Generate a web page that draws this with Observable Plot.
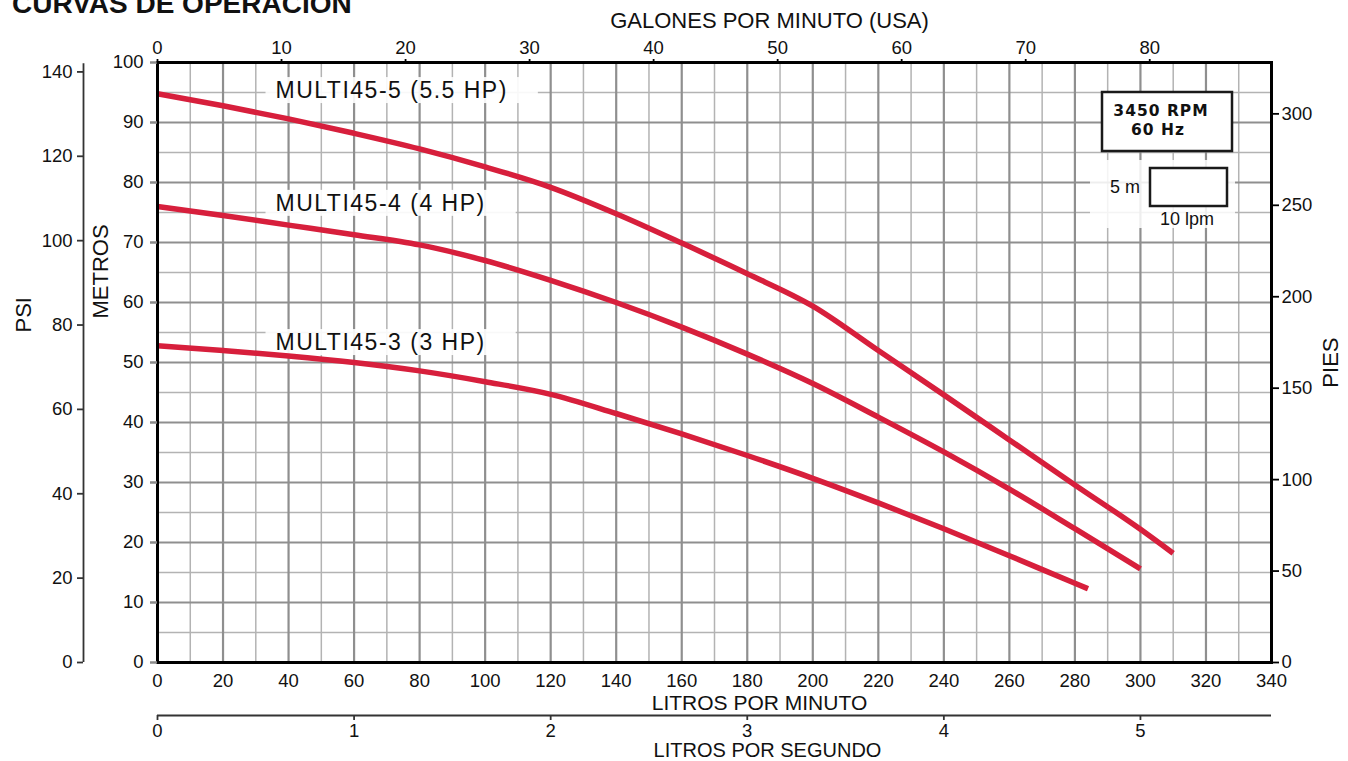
<!DOCTYPE html>
<html>
<head>
<meta charset="utf-8">
<script src="https://cdn.jsdelivr.net/npm/d3@7"></script>
<script src="https://cdn.jsdelivr.net/npm/@observablehq/plot@0.6"></script>
<style>
  html, body { margin: 0; padding: 0; background: white; }
  #wrap { position: relative; width: 1348px; height: 761px; overflow: hidden; }
  #title { position: absolute; left: 12px; top: -10px; font: bold 28px "Liberation Sans", Arial, sans-serif; line-height: 28px; color: #111; z-index: 2; }
</style>
</head>
<body>
<div id="wrap"><div id="title">CURVAS DE OPERACION</div></div>
<script>
// ---- data ----
const seriesNames = ["MULTI45-5 (5.5 HP)", "MULTI45-4 (4 HP)", "MULTI45-3 (3 HP)"];

const flow55 = [0, 20, 40, 60, 80, 100, 120, 140, 160, 180, 200, 220, 240, 260, 280, 300, 310];
const head55 = [94.8, 92.8, 90.6, 88.2, 85.6, 82.6, 79.2, 74.8, 69.9, 64.8, 59.4, 52.0, 44.6, 37.1, 29.6, 22.2, 18.2];

const flow4 = [0, 20, 40, 60, 80, 100, 120, 140, 160, 180, 200, 220, 240, 260, 280, 300];
const head4 = [76.0, 74.5, 72.9, 71.3, 69.6, 67.0, 63.7, 60.0, 55.9, 51.4, 46.5, 40.9, 35.1, 28.9, 22.3, 15.6];

const flow3 = [0, 20, 40, 60, 80, 100, 120, 140, 160, 180, 200, 220, 240, 260, 280, 284];
const head3 = [52.8, 52.0, 51.1, 50.0, 48.6, 46.8, 44.7, 41.5, 38.1, 34.5, 30.7, 26.6, 22.3, 17.8, 13.2, 12.3];

// tick labels
const lpmTicks = [0, 20, 40, 60, 80, 100, 120, 140, 160, 180, 200, 220, 240, 260, 280, 300, 320, 340];
const gpmTicks = [0, 10, 20, 30, 40, 50, 60, 70, 80];
const metrosTicks = [0, 10, 20, 30, 40, 50, 60, 70, 80, 90, 100];
const piesTicks = [0, 50, 100, 150, 200, 250, 300];
const psiTicks = [0, 20, 40, 60, 80, 100, 120, 140];
const lpsTicks = [0, 1, 2, 3, 4, 5];
const gridMinorX = [10, 30, 50, 70, 90, 110, 130, 150, 170, 190, 210, 230, 250, 270, 290, 310, 330];
const gridMajorX = [20, 40, 60, 80, 100, 120, 140, 160, 180, 200, 220, 240, 260, 280, 300, 320];
const gridMinorY = [5, 15, 25, 35, 45, 55, 65, 75, 85, 95];
const gridMajorY = [10, 20, 30, 40, 50, 60, 70, 80, 90];

// unit conversions
const LPM_PER_GPM = 3.78541;
const M_PER_FT = 0.3048;
const M_PER_PSI = 0.70307;
const LPM_PER_LPS = 60;

// ---- tidy table ----
const flows = [flow55, flow4, flow3];
const heads = [head55, head4, head3];
const rows = [];
seriesNames.forEach((name, s) => flows[s].forEach((q, i) => rows.push({series: name, lpm: q, m: heads[s][i]})));
const labelRows = seriesNames.map((name, s) => ({series: name, m: heads[s][0]}));

const RED = "#d71f3c";
const FONT = "Liberation Sans, Arial, Helvetica, sans-serif";

const chart = Plot.plot({
  width: 1348,
  height: 761,
  marginLeft: 157,
  marginRight: 77,
  marginTop: 62,
  marginBottom: 99,
  style: {fontFamily: FONT, fontSize: "18.5px", color: "#111", background: "white", overflow: "visible"},
  x: {domain: [0, 340]},
  y: {domain: [0, 100]},
  marks: [
    // grid
    Plot.ruleX(gridMinorX, {stroke: "#b3b3b3", strokeWidth: 1.5}),
    Plot.ruleY(gridMinorY, {stroke: "#b3b3b3", strokeWidth: 1.5}),
    Plot.ruleX(gridMajorX, {stroke: "#8f8f8f", strokeWidth: 2.2}),
    Plot.ruleY(gridMajorY, {stroke: "#8f8f8f", strokeWidth: 2.2}),
    // curve labels
    Plot.text(labelRows, {y: "m", text: "series", frameAnchor: "left", lineAnchor: "middle", dx: 118, dy: -3, textAnchor: "start",
      fontSize: 23, fill: "#111"}),
    // curves
    Plot.line(rows, {x: "lpm", y: "m", z: "series", stroke: RED, strokeWidth: 5.5, curve: "monotone-x", strokeLinecap: "butt"}),
    // frame
    Plot.frame({stroke: "#000", strokeWidth: 3}),
    // METROS axis (left)
    Plot.axisY(metrosTicks, {anchor: "left", tickSize: 7, tickPadding: 7, stroke: "#8a8a8a", strokeWidth: 2.5, fill: "#111", fontSize: 18.5, label: null, text: d => String(d)}),
    // PIES axis (right)
    Plot.axisY(piesTicks, {y: d => d * M_PER_FT, anchor: "right", tickSize: 7, tickPadding: 3, stroke: "#000", strokeWidth: 1.8, fill: "#111", fontSize: 18.5, label: null, text: d => String(d)}),
    // PSI axis (far left)
    Plot.ruleX([0], {y1: 0, y2: 99.8, dx: -74, stroke: "#333", strokeWidth: 1.8}),
    Plot.axisY(psiTicks, {y: d => d * M_PER_PSI, anchor: "left", dx: -74, tickSize: 6, tickPadding: 5, stroke: "#333", strokeWidth: 1.8, fill: "#111", fontSize: 18.5, label: null, text: d => String(d)}),
    // LPM axis (bottom)
    Plot.axisX(lpmTicks, {anchor: "bottom", tickSize: 0, tickPadding: 11, fill: "#111", fontSize: 18.5, label: null, text: d => String(d)}),
    // GPM axis (top)
    Plot.axisX(gpmTicks, {x: d => d * LPM_PER_GPM, anchor: "top", tickSize: 4, tickPadding: 5, stroke: "#000", strokeWidth: 1.8, fill: "#111", fontSize: 18.5, label: null, text: d => String(d)}),
    // LPS axis (lower)
    Plot.ruleY([0], {x1: 0, x2: 340, dy: 53, stroke: "#333", strokeWidth: 1.8}),
    Plot.axisX(lpsTicks, {x: d => d * LPM_PER_LPS, anchor: "bottom", dy: 53, tickSize: 5, tickPadding: 3, stroke: "#333", strokeWidth: 1.8, fill: "#111", fontSize: 18.5, label: null, text: d => String(d)}),
    // axis titles
    Plot.text(["GALONES POR MINUTO (USA)"], {text: d => d, frameAnchor: "top", lineAnchor: "middle", dx: 55, dy: -42, fontSize: 22, fill: "#111"}),
    Plot.text(["LITROS POR MINUTO"], {text: d => d, frameAnchor: "bottom", lineAnchor: "middle", dx: 45, dy: 41, fontSize: 21, fill: "#111"}),
    Plot.text(["LITROS POR SEGUNDO"], {text: d => d, frameAnchor: "bottom", lineAnchor: "middle", dx: 53, dy: 88.5, fontSize: 20, fill: "#111"}),
    Plot.text(["METROS"], {text: d => d, frameAnchor: "left", lineAnchor: "middle", dx: -57, dy: -44, rotate: -90, fontSize: 22, fill: "#111"}),
    Plot.text(["PSI"], {text: d => d, frameAnchor: "left", lineAnchor: "middle", dx: -134, dy: -30, rotate: -90, fontSize: 22, fill: "#111"}),
    Plot.text(["PIES"], {text: d => d, frameAnchor: "right", lineAnchor: "middle", dx: 59, dy: -25, rotate: -90, fontSize: 22, fill: "#111"})
  ]
});

document.getElementById("wrap").appendChild(chart);

// white boxes behind curve labels, with letter spacing
const svg = d3.select(chart);
svg.selectAll("text").filter(function () { return seriesNames.includes(this.textContent); }).each(function () {
  this.style.letterSpacing = "1.5px";
  const bb = this.getBBox();
  const rect = document.createElementNS("http://www.w3.org/2000/svg", "rect");
  rect.setAttribute("x", bb.x - 10);
  rect.setAttribute("y", bb.y);
  rect.setAttribute("width", bb.width + 40);
  rect.setAttribute("height", bb.height);
  rect.setAttribute("fill", "white");
  rect.setAttribute("fill-opacity", "0.9");
  const tr = this.getAttribute("transform");
  if (tr) rect.setAttribute("transform", tr);
  this.parentNode.insertBefore(rect, this);
});

// legend boxes (top-right)
const leg = svg.append("g").attr("font-family", FONT).attr("fill", "#111");
leg.append("rect").attr("x", 1102).attr("y", 92).attr("width", 130).attr("height", 59)
  .attr("fill", "white").attr("stroke", "#1a1a1a").attr("stroke-width", 2.5);
leg.append("text").attr("x", 1161).attr("y", 115.5).attr("text-anchor", "middle")
  .attr("font-family", "DejaVu Sans, sans-serif").attr("letter-spacing", 1)
  .attr("font-weight", "bold").attr("font-size", 15.5).text("3450 RPM");
leg.append("text").attr("x", 1158).attr("y", 134.5).attr("text-anchor", "middle")
  .attr("font-family", "DejaVu Sans, sans-serif").attr("letter-spacing", 1)
  .attr("font-weight", "bold").attr("font-size", 15.5).text("60 Hz");
leg.append("rect").attr("x", 1090).attr("y", 160).attr("width", 145).attr("height", 68)
  .attr("fill", "white").attr("fill-opacity", 0.85);
leg.append("rect").attr("x", 1150).attr("y", 168).attr("width", 77).attr("height", 38)
  .attr("fill", "white").attr("stroke", "#1a1a1a").attr("stroke-width", 2.5);
leg.append("text").attr("x", 1125).attr("y", 193).attr("text-anchor", "middle")
  .attr("font-size", 18).text("5 m");
leg.append("text").attr("x", 1187).attr("y", 225).attr("text-anchor", "middle")
  .attr("font-size", 18).text("10 lpm");
</script>
</body>
</html>
